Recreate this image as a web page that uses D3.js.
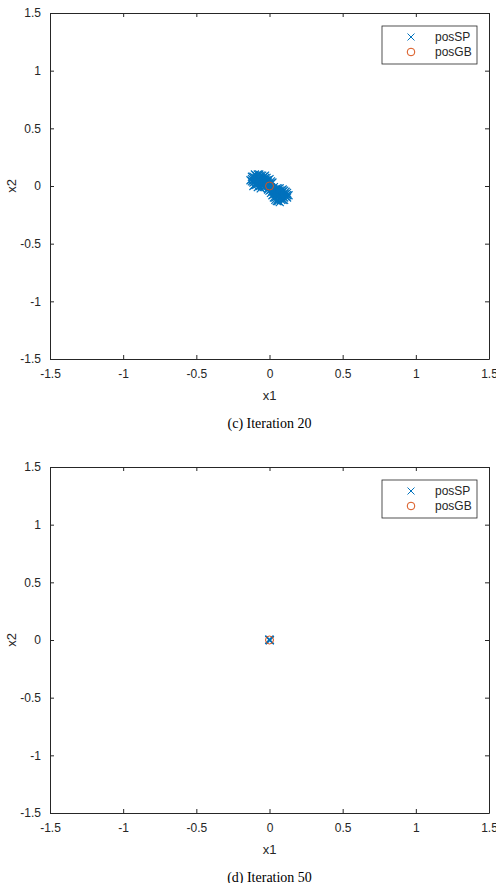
<!DOCTYPE html>
<html>
<head>
<meta charset="utf-8">
<style>
  body { margin: 0; background: #fff; }
  .tick text { font-family: "Liberation Sans", Arial, sans-serif; font-size: 12px; fill: #262626; }
  .cap { font-family: "Liberation Serif", "Times New Roman", serif; font-size: 14px; fill: #000; }
  .lab { font-family: "Liberation Sans", Arial, sans-serif; font-size: 13px; fill: #262626; }
</style>
</head>
<body>
<div id="chart"></div>
<script src="https://cdn.jsdelivr.net/npm/d3@7"></script>
<script>
// tick values for both axes
var ticks = [-1.5, -1, -0.5, 0, 0.5, 1, 1.5];
var seriesNames = ["posSP", "posGB"];
var captions = ["(c) Iteration 20", "(d) Iteration 50"];

// particle positions, iteration 20
var posSP20 = [
  [-0.12,0.06],[-0.11,0.03],[-0.10,0.07],[-0.10,0.01],[-0.09,0.05],[-0.09,0.09],[-0.08,0.02],
  [-0.08,0.06],[-0.07,0.08],[-0.07,0.00],[-0.06,0.04],[-0.06,0.07],[-0.05,0.02],[-0.05,0.09],
  [-0.04,0.05],[-0.04,-0.01],[-0.03,0.03],[-0.03,0.07],[-0.02,0.01],[-0.02,0.05],[-0.01,0.03],
  [-0.01,-0.02],[0.00,0.02],[0.01,0.04],[-0.11,0.08],[-0.12,0.04],[-0.08,0.10],[-0.06,0.01],
  [-0.04,0.08],[0.00,0.06],[-0.09,0.03],[-0.07,0.05],[-0.05,0.06],[-0.03,0.00],
  [-0.13,0.05],[-0.12,0.08],[-0.11,0.00],[-0.10,0.04],[-0.10,0.10],[-0.09,0.07],[-0.08,-0.01],
  [-0.07,0.03],[-0.07,0.10],[-0.06,0.09],[-0.06,-0.02],[-0.05,0.04],[-0.05,0.00],[-0.04,0.02],
  [-0.03,0.05],[-0.03,0.09],[-0.02,0.03],[-0.02,0.07],[-0.02,-0.01],[-0.01,0.05],[-0.01,0.01],
  [0.01,0.02],[0.02,0.03],[-0.08,0.04],[-0.11,0.05],[-0.09,0.01],
  [0.00,-0.04],[0.01,-0.06],[0.02,-0.02],[0.02,-0.08],[0.03,-0.05],[0.03,-0.10],[0.04,-0.03],
  [0.04,-0.07],[0.05,-0.09],[0.05,-0.05],[0.06,-0.02],[0.06,-0.11],[0.07,-0.07],[0.07,-0.04],
  [0.08,-0.09],[0.08,-0.06],[0.09,-0.12],[0.09,-0.03],[0.10,-0.07],[0.10,-0.10],[0.11,-0.05],
  [0.11,-0.09],[0.12,-0.08],[0.05,-0.13],[0.03,-0.01],[0.01,-0.01],[0.06,-0.08],[0.08,-0.04],
  [0.00,-0.01],[0.01,-0.03],[0.02,-0.05],[0.03,-0.07],[0.04,-0.05],[0.04,-0.10],[0.05,-0.02],
  [0.05,-0.07],[0.06,-0.05],[0.06,-0.13],[0.07,-0.10],[0.07,-0.02],[0.08,-0.12],[0.08,-0.07],
  [0.09,-0.05],[0.09,-0.09],[0.10,-0.04],[0.10,-0.12],[0.11,-0.07],[0.12,-0.10],[0.12,-0.06],
  [0.13,-0.08],[0.07,-0.14],[0.04,-0.12],[0.02,-0.04],[-0.01,-0.03]
];
var posGB20 = [[0.0, 0.0]];

// particle positions, iteration 50
var posSP50 = [[0.0,0.0],[0.003,-0.002],[-0.002,0.003],[0.001,0.001]];
var posGB50 = [[0.0, 0.0]];

var W = 496, H = 883;
var blue = "#0072BD", orange = "#D95319", axisCol = "#262626";
var fmt = function(d) { return String(d); };

var svg = d3.select("#chart").append("svg")
  .attr("width", W).attr("height", H);

function panel(top, sp, gb, caption) {
  var left = 50, right = 489, h = 346;
  var x = d3.scaleLinear().domain([-1.5, 1.5]).range([left, right]);
  var y = d3.scaleLinear().domain([-1.5, 1.5]).range([top + h, top]);
  var g = svg.append("g");

  // axes, ticks inward like matlab
  g.append("g").attr("transform", "translate(0," + (top + h) + ")")
    .call(d3.axisBottom(x).tickValues(ticks).tickSizeInner(-4).tickSizeOuter(0).tickPadding(10).tickFormat(fmt));
  g.append("g").attr("transform", "translate(0," + top + ")")
    .call(d3.axisTop(x).tickValues(ticks).tickSizeInner(-4).tickSizeOuter(0).tickFormat(""));
  g.append("g").attr("transform", "translate(" + left + ",0)")
    .call(d3.axisLeft(y).tickValues(ticks).tickSizeInner(-4).tickSizeOuter(0).tickPadding(9).tickFormat(fmt));
  g.append("g").attr("transform", "translate(" + right + ",0)")
    .call(d3.axisRight(y).tickValues(ticks).tickSizeInner(-4).tickSizeOuter(0).tickFormat(""));
  g.selectAll(".domain, .tick line").attr("stroke", axisCol);

  // posSP crosses
  var s = 4;
  g.selectAll(".sp").data(sp).enter().append("path")
    .attr("class", "sp")
    .attr("d", function(d) {
      var cx = x(d[0]), cy = y(d[1]);
      return "M" + (cx - s) + "," + (cy - s) + "L" + (cx + s) + "," + (cy + s) +
             "M" + (cx - s) + "," + (cy + s) + "L" + (cx + s) + "," + (cy - s);
    })
    .attr("stroke", blue).attr("stroke-width", 1.2).attr("fill", "none");

  // posGB circles
  g.selectAll(".gb").data(gb).enter().append("circle")
    .attr("cx", function(d) { return x(d[0]); })
    .attr("cy", function(d) { return y(d[1]); })
    .attr("r", 4)
    .attr("fill", "none").attr("stroke", orange).attr("stroke-width", 1);

  // labels
  g.append("text").attr("class", "lab").attr("x", (left + right) / 2).attr("y", top + h + 41)
    .attr("text-anchor", "middle").text("x1");
  g.append("text").attr("class", "lab")
    .attr("transform", "translate(16," + (top + h / 2) + ") rotate(-90)")
    .attr("text-anchor", "middle").text("x2");
  g.append("text").attr("class", "cap").attr("x", (left + right) / 2).attr("y", top + h + 69)
    .attr("text-anchor", "middle").text(caption);

  // legend
  var lg = g.append("g").attr("transform", "translate(382," + (top + 13) + ")");
  lg.append("rect").attr("width", 95).attr("height", 38)
    .attr("fill", "#fff").attr("stroke", axisCol).attr("stroke-width", 0.8);
  var mx = 29, r1 = 11, r2 = 26, ls = 3.5;
  lg.append("path")
    .attr("d", "M" + (mx - ls) + "," + (r1 - ls) + "L" + (mx + ls) + "," + (r1 + ls) +
               "M" + (mx - ls) + "," + (r1 + ls) + "L" + (mx + ls) + "," + (r1 - ls))
    .attr("stroke", blue).attr("fill", "none");
  lg.append("circle").attr("cx", mx).attr("cy", r2).attr("r", 3.8)
    .attr("fill", "none").attr("stroke", orange);
  lg.selectAll(".lt").data(seriesNames).enter().append("text")
    .attr("class", "lab").attr("x", 53)
    .attr("y", function(d, i) { return i === 0 ? r1 : r2; })
    .attr("dy", "0.35em").style("font-size", "12px").text(function(d) { return d; });
}

panel(13, posSP20, posGB20, captions[0]);
panel(467, posSP50, posGB50, captions[1]);
</script>
</body>
</html>
